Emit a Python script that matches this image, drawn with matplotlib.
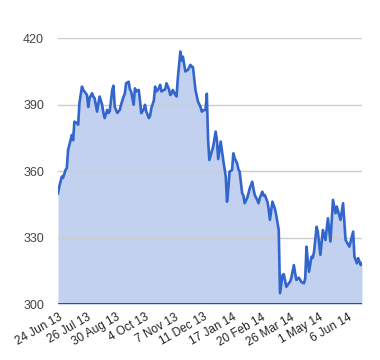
import matplotlib
matplotlib.use("Agg")
import matplotlib.pyplot as plt

plt.rcParams["font.family"] = ["Liberation Sans", "DejaVu Sans"]

# trading-day index and closing price
day = [0, 1, 3, 4, 6, 7, 8, 10, 11, 12, 13, 15, 16, 17, 19, 20, 21, 23, 24, 25,
       27, 28, 29, 31, 32, 33, 35, 36, 37, 39, 40, 41, 43, 44, 45, 47, 48, 49,
       50, 52, 53, 54, 56, 57, 58, 60, 61, 62, 64, 65, 66, 68, 69, 70, 72, 73,
       74, 76, 77, 78, 80, 81, 82, 84, 85, 86, 88, 89, 90, 91, 93, 94, 95, 97,
       98, 99, 101, 102, 103, 105, 106, 107, 109, 110, 111, 113, 114, 115, 117,
       118, 119, 120, 123, 125, 126, 127, 129, 131, 133, 134, 135, 136, 138,
       139, 140, 142, 143, 144, 146, 147, 148, 150, 151, 152, 154, 155, 156,
       158, 159, 160, 162, 163, 164, 166, 167, 168, 170, 172, 173, 175, 176,
       178, 179, 181, 183, 184, 185, 187, 188, 189, 191, 192, 193, 195, 196,
       197, 198, 199, 201, 202, 203, 205, 206, 208, 210, 212, 214, 216, 218,
       220, 221, 224, 226, 228, 231, 234, 235, 237, 238, 240, 241]
price = [350, 353, 357.6, 357, 360.6, 361.5, 369.6, 374, 376.4, 374, 382.4,
         381.8, 381, 390.8, 398.2, 396.7, 396, 394.4, 389, 393, 395.2, 393.7,
         393, 386.9, 390.7, 393.7, 390, 386.3, 384, 387.7, 386.3, 387, 396.7,
         398.6, 389, 386.3, 387, 387.7, 390, 393.7, 395, 399.7, 400.4, 397,
         395.9, 390, 397.4, 396, 396.7, 392, 386.2, 388, 390, 387, 384, 385,
         388.4, 392, 398.2, 396, 397.4, 399, 396, 396.7, 397, 399.7, 397,
         394.4, 395, 396.7, 394.5, 393.7, 402, 414, 410, 411.7, 405, 405.5,
         405.7, 408, 407.2, 407, 396.7, 394, 391.4, 389, 386.9, 387.5, 387.7,
         395, 374.1, 365.1, 371.1, 377.9, 374, 365.5, 373.4, 365, 357.6, 346.3,
         352, 359.8, 360.6, 368.1, 366, 363.6, 361, 359.8, 350.1, 349, 345.6,
         348, 350, 352.3, 355.3, 352, 349.3, 347, 345.6, 348, 350.8, 349, 349.3,
         346.3, 343, 338.1, 346.3, 343, 340.3, 333.5, 305, 313.2, 313.6, 307.9,
         309.5, 310.2, 312, 317.7, 314, 311, 312, 311, 310, 309.5, 311.7, 326,
         320, 314.7, 321.5, 321, 323.7, 335, 332.8, 322.3, 333.5, 329, 338.8,
         328.3, 347.1, 341.1, 344.1, 338.1, 345.6, 329, 326, 332.8, 321.5,
         318.5, 320.8, 317.7, 318.5]

tick_days = [0, 23, 46, 69, 92, 115, 138, 161, 184, 207, 230]
tick_labels = ["24 Jun 13", "26 Jul 13", "30 Aug 13", "4 Oct 13", "7 Nov 13",
               "11 Dec 13", "17 Jan 14", "20 Feb 14", "26 Mar 14", "1 May 14",
               "6 Jun 14"]
y_ticks = [300, 330, 360, 390, 420]

LINE = "#3366cc"
FILL = "#c2d1f0"

fig = plt.figure(figsize=(3.8, 3.6), dpi=100)
ax = fig.add_axes([0.1526, 0.1547, 0.8, 0.739])

ax.fill_between(day, 300, price, color=FILL, linewidth=0, zorder=1)
ax.plot(day, price, color=LINE, linewidth=1.9, zorder=3)

ax.set_xlim(0, 241)
ax.set_ylim(300, 420)
ax.set_yticks(y_ticks)
ax.set_yticklabels([str(v) for v in y_ticks], fontsize=9, color="#444444")
ax.set_xticks(tick_days)
ax.set_xticklabels(tick_labels, rotation=30, ha="right",
                   rotation_mode="anchor", fontsize=8.5, color="#222222")
ax.tick_params(axis="both", length=0)
ax.tick_params(axis="y", pad=10)
ax.tick_params(axis="x", pad=5)

for v in y_ticks[1:]:
    ax.axhline(v, color="#cccccc", linewidth=1, zorder=2)
ax.axhline(300, color="#333333", linewidth=1.2, zorder=4)

for s in ax.spines.values():
    s.set_visible(False)

fig.savefig("out.png", dpi=100)
